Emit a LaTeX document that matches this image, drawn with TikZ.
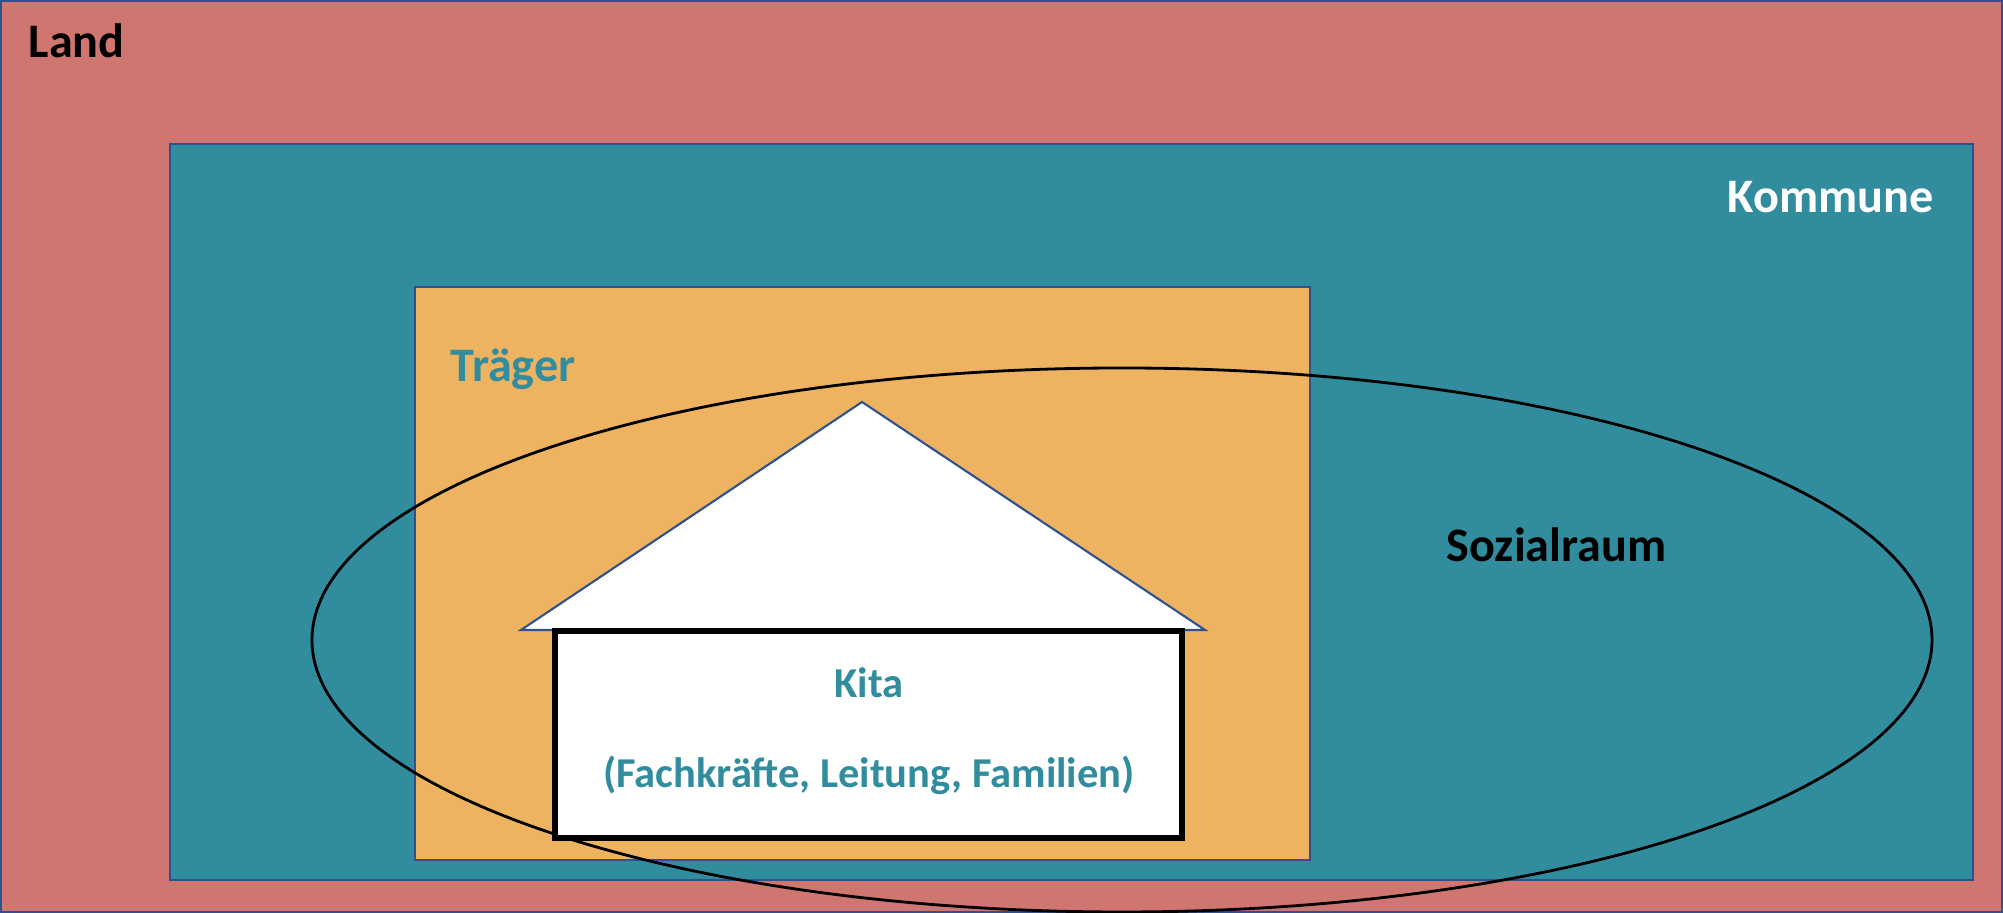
\documentclass[tikz,border=0pt]{standalone}
\usepackage{fontspec}
\setmainfont{Carlito}
\usepackage{tikz}
\usetikzlibrary{positioning}
\usepackage{xcolor}
\definecolor{landred}{RGB}{207, 118, 112}
\definecolor{kommuneteal}{RGB}{49, 141, 158}
\definecolor{traegerorange}{RGB}{237, 179, 97}
\definecolor{edgeblue}{RGB}{47, 82, 143}

\begin{document}
\begin{tikzpicture}[
    ebene/.style={draw=edgeblue, line width=0.6pt},
    bigtext/.style={font=\fontsize{13.7}{16}\selectfont\bfseries, anchor=base west, inner sep=0pt},
    kitatext/.style={font=\fontsize{12.1}{14}\selectfont\bfseries, text=kommuneteal, anchor=base, inner sep=0pt}
  ]
        \useasboundingbox (0, 0) rectangle (20.03, 9.13);

        % ---- LAND ----
        \filldraw[ebene, fill=landred] (0.01, 0.01) rectangle (20.02, 9.12);
        \node[bigtext, text=black] (land) at (0.28, 8.55) {Land};

        % ---- KOMMUNE ----
        \filldraw[ebene, fill=kommuneteal] (1.70, 0.33) rectangle (19.73, 7.69);
        \node[bigtext, text=white] (kommune) at (17.27, 7.00) {Kommune};

        % ---- TRAEGER ----
        \filldraw[ebene, fill=traegerorange] (4.15, 0.53) rectangle (13.10, 6.26);
        \node[bigtext, text=kommuneteal] (traeger) at (4.50, 5.31) {Träger};

        % ---- SOZIALRAUM ----
        \draw[black, line width=0.8pt] (11.22, 2.73) ellipse [x radius=8.10, y radius=2.72];
        \node[bigtext, text=black] (sozialraum) at (14.46, 3.51) {Sozialraum};

        % ---- KITA (house) ----
        \filldraw[ebene, fill=white] (5.21, 2.83) -- (8.62, 5.11) -- (12.05, 2.83) -- cycle;
        \filldraw[draw=black, fill=white, line width=1.5pt] (5.55, 0.75) rectangle (11.82, 2.82);
        \node[kitatext] (kita) at (8.69, 2.15) {Kita};
        \node[kitatext] (kitaleute) at (8.69, 1.25) {(Fachkräfte, Leitung, Familien)};
      \end{tikzpicture}
\end{document}
